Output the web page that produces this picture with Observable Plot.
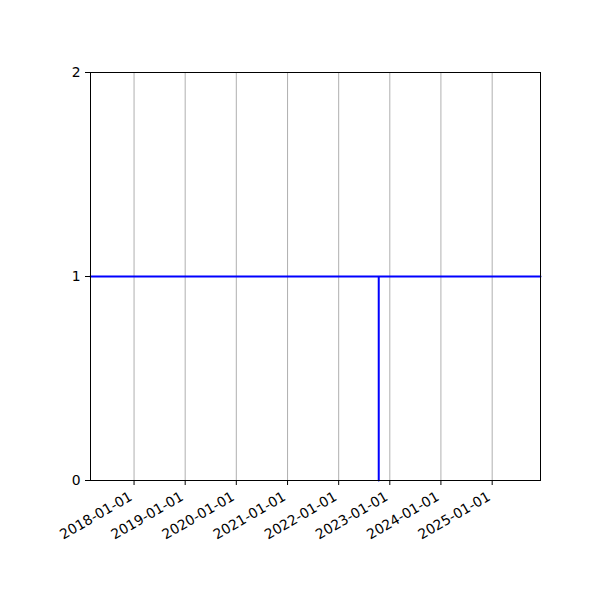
<!DOCTYPE html>
<html><head>
<meta charset="utf-8">
<script src="https://cdn.jsdelivr.net/npm/d3@7"></script>
<script src="https://cdn.jsdelivr.net/npm/@observablehq/plot@0.6"></script>
<style>body{margin:0;background:#fff}</style>
</head><body><div id="chart"></div>
<script>
const dates = ["2017-02-24","2022-10-14","2022-10-14","2022-10-14","2025-12-12"];
const values = [1,1,0,1,1];
const tickDates = ["2018-01-01","2019-01-01","2020-01-01","2021-01-01","2022-01-01","2023-01-01","2024-01-01","2025-01-01"];
const yTicks = [0,1,2];
const xDomain = ["2017-02-24","2025-12-12"];

const data = dates.map((d,i)=>({date:new Date(d+"T00:00:00Z"), value:values[i]}));
const xt = tickDates.map(d=>new Date(d+"T00:00:00Z"));

const plot = Plot.plot({
  width:600, height:600,
  marginLeft:90, marginRight:60, marginTop:72, marginBottom:120,
  style:{fontFamily:"DejaVu Sans", fontSize:"13.9px", background:"#fff", color:"#000"},
  x:{type:"utc", domain:xDomain.map(d=>new Date(d+"T00:00:00Z")), label:null},
  y:{domain:[0,2], label:null},
  marks:[
    Plot.gridX(xt, {stroke:"#b0b0b0", strokeOpacity:1, strokeWidth:1}),
    Plot.line(data, {x:"date", y:"value", stroke:"#0000ff", strokeWidth:2}),
    Plot.frame({stroke:"#000", strokeWidth:1}),
    Plot.axisX(xt, {tickSize:5, tickFormat:()=>"", label:null}),
    Plot.axisX(xt, {tickFormat:d3.utcFormat("%Y-%m-%d"), tickRotate:-30, tickSize:0, tickPadding:15, dx:-3, fontSize:13.9, label:null}),
    Plot.axisY(yTicks, {tickSize:5, tickPadding:5, tickFormat:d=>String(d), fontSize:13.9, label:null})
  ]
});
document.getElementById("chart").appendChild(plot);
</script>
</body></html>
